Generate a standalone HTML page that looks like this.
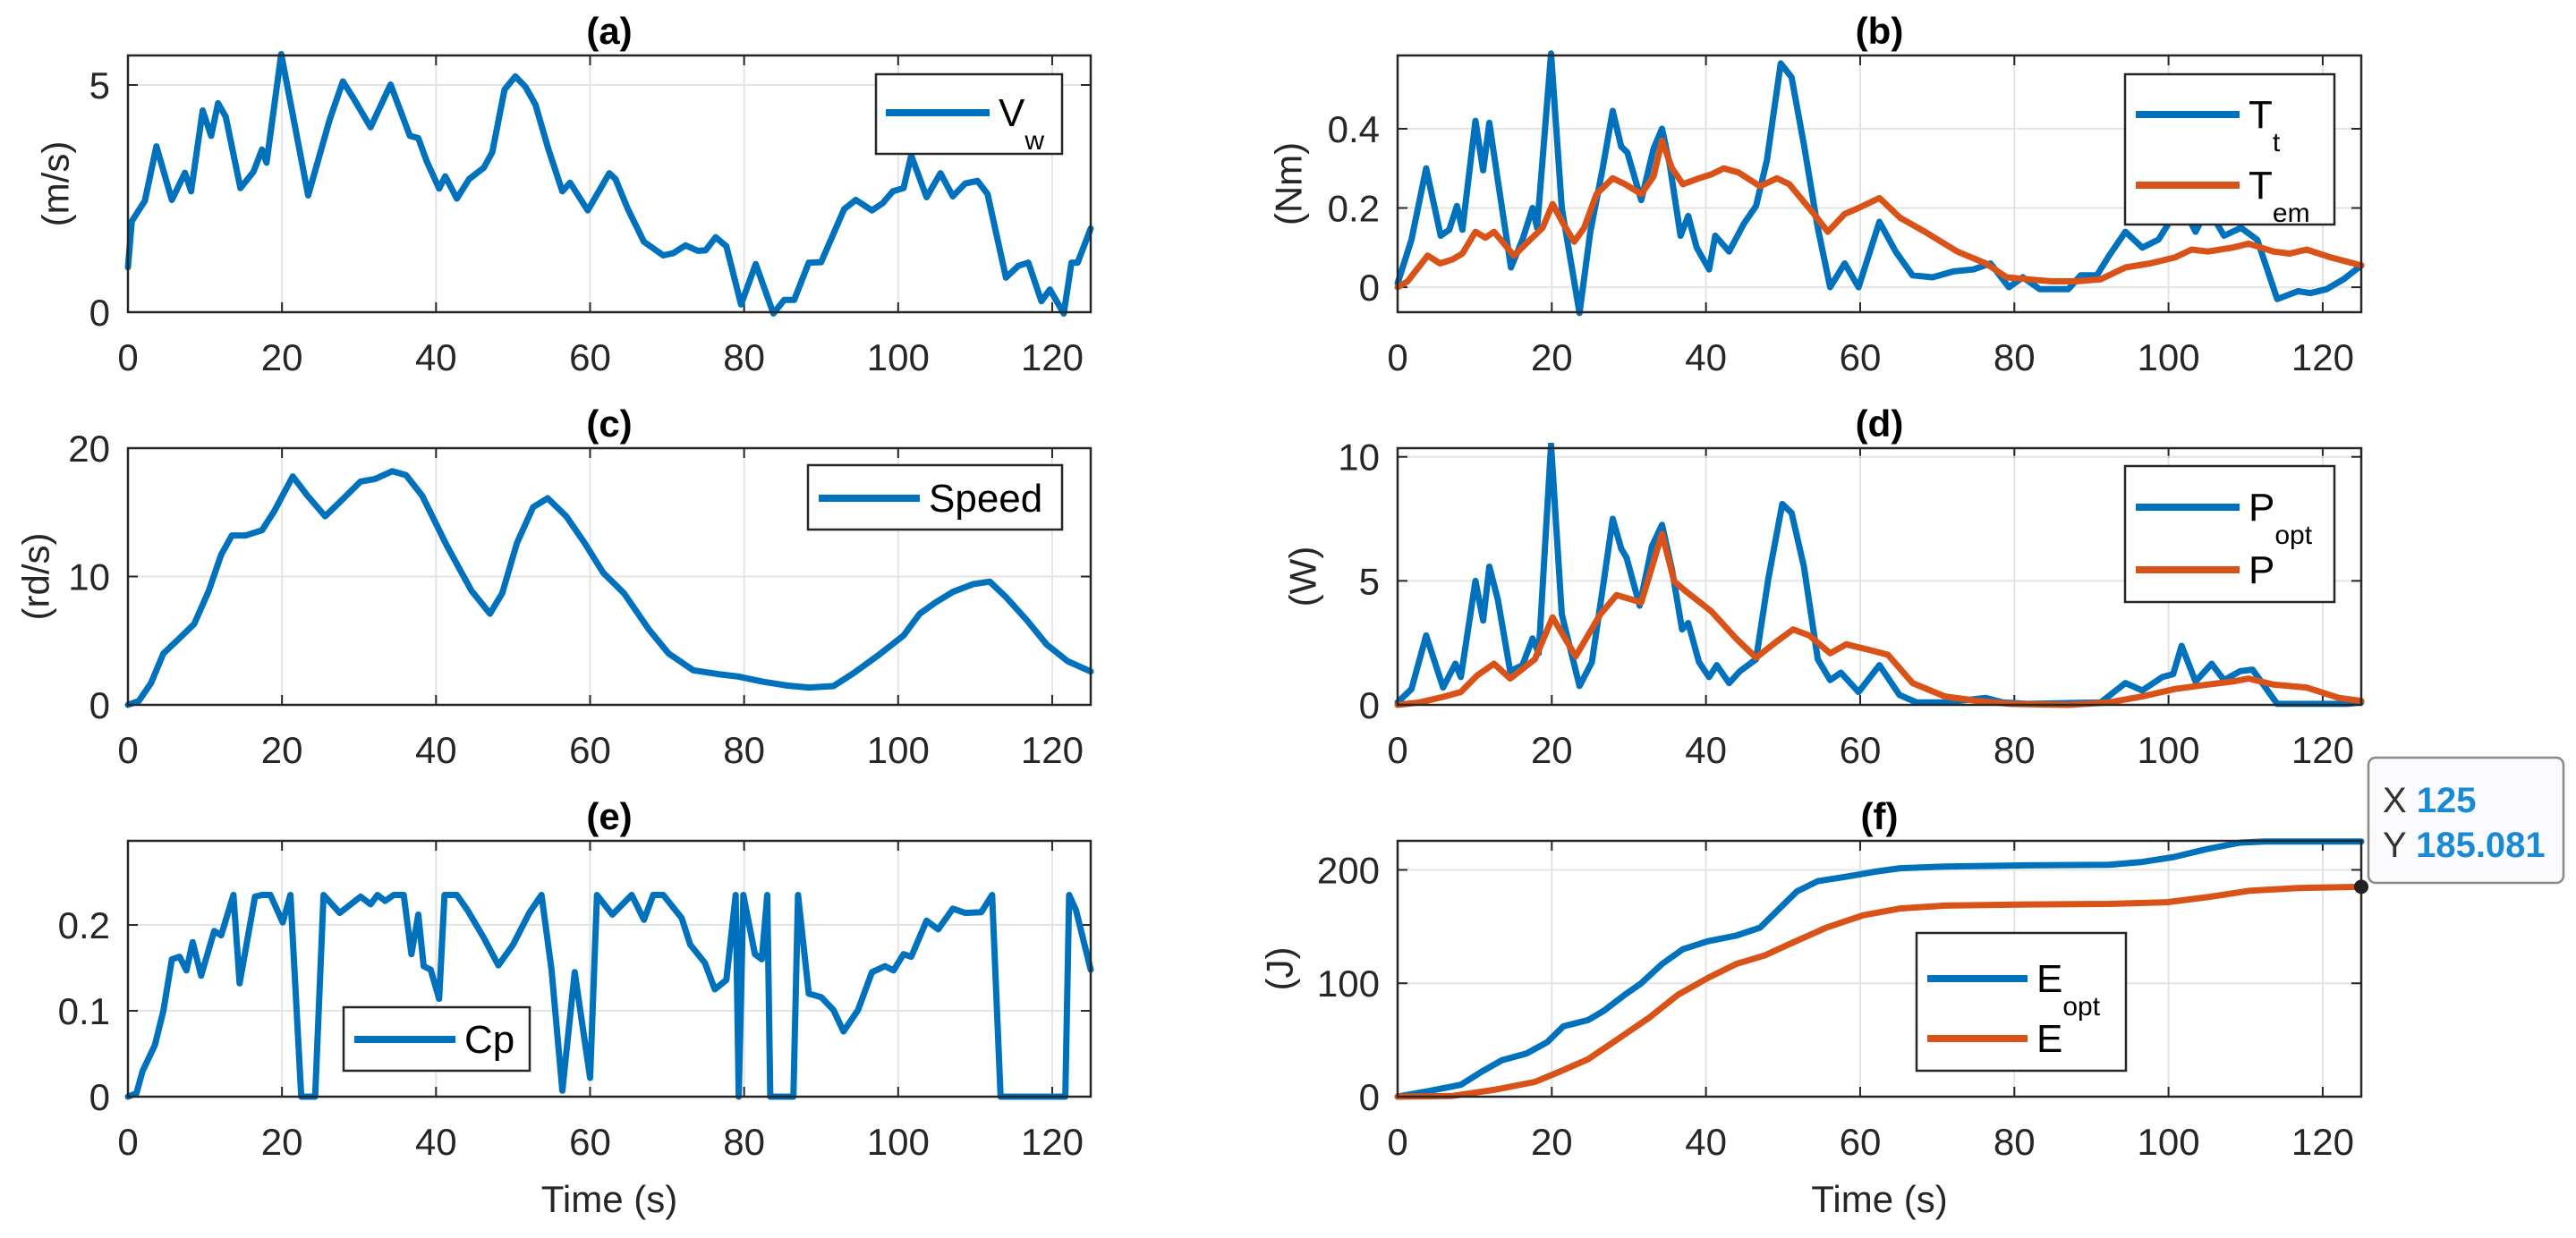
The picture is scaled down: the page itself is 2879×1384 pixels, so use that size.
<!DOCTYPE html>
<html><head><meta charset="utf-8"><style>
html,body{margin:0;padding:0;background:#fff;}
svg{display:block;font-family:"Liberation Sans",Arial,sans-serif;}
</style></head><body>
<svg id="fig" width="2879" height="1384" viewBox="0 0 2879 1384" xmlns="http://www.w3.org/2000/svg"></svg>
<script>
// ---- data ----
const timeTicks = [0,20,40,60,80,100,120];
const tA = [0,0.5,2.2,3.7,5.7,7.4,8.2,9.7,10.8,11.7,12.7,14.6,16.3,17.4,18,19.9,23.4,26.2,27.9,29.1,31.5,34.1,36.6,37.7,38.8,40.4,41.2,42.7,44.3,46.2,47.3,48.9,50.3,51.6,52.9,54.6,56.4,57.4,59.7,62.5,63.3,64.9,67,69.5,70.8,72.4,74,75,76.3,77.7,79.6,81.5,83.8,85.2,86.5,88.4,90,93,94.5,96.6,98,99.3,100.7,101.7,103.7,105.5,107.1,108.7,110.3,111.6,114,115.6,116.9,118.6,119.7,121.5,122.5,123.3,125];
const vw = [0.99,2.0,2.45,3.65,2.47,3.07,2.66,4.44,3.88,4.6,4.3,2.73,3.09,3.58,3.29,5.68,2.57,4.24,5.08,4.76,4.07,5.01,3.88,3.83,3.32,2.72,2.99,2.5,2.93,3.18,3.52,4.9,5.19,4.96,4.57,3.58,2.66,2.85,2.24,3.06,2.93,2.27,1.55,1.25,1.3,1.47,1.35,1.36,1.65,1.45,0.17,1.06,-0.03,0.27,0.27,1.09,1.1,2.27,2.47,2.24,2.4,2.66,2.73,3.45,2.53,3.06,2.55,2.83,2.89,2.6,0.76,1.02,1.09,0.24,0.5,-0.03,1.09,1.09,1.84];
const aTicks = [0,5];

const tTt = [0,1.8,3.7,5.6,6.7,7.7,8.4,10.1,11.1,11.9,13,14.7,16.2,17.5,18.1,19.9,21.3,23.6,25,26.6,27.9,29,29.8,31.6,33.2,34.3,35.3,36.7,37.7,38.8,40.4,41.2,43,44.9,46.5,47.9,49.7,51.1,52.7,54.5,56.1,58,59.8,62.5,64.6,66.8,69.4,72.1,74.7,76.9,79.3,81.1,83.3,87,88.6,90.7,92.3,94.4,96.6,98.7,100.3,101.9,103.5,105.1,107.2,109.4,111.5,114.1,116.8,118.4,120.5,122.7,125];
const torqueTt = [0.01,0.12,0.30,0.13,0.145,0.205,0.145,0.42,0.295,0.415,0.27,0.05,0.12,0.2,0.15,0.59,0.2,-0.065,0.14,0.30,0.445,0.355,0.34,0.22,0.35,0.40,0.31,0.13,0.18,0.10,0.045,0.13,0.09,0.16,0.205,0.32,0.565,0.53,0.36,0.15,0,0.06,0,0.165,0.09,0.03,0.025,0.04,0.045,0.06,0,0.025,-0.005,-0.005,0.03,0.03,0.08,0.14,0.10,0.12,0.17,0.2,0.14,0.2,0.13,0.15,0.12,-0.03,-0.01,-0.015,-0.005,0.02,0.055];
const tTem = [0,1.3,3.9,5.5,7.1,8.4,10.1,11.4,12.5,13.8,15.1,17.2,18.8,20.1,21.5,22.9,24.2,25.8,27.9,29.5,31.6,33.2,34.3,35.6,37,39.1,40.7,42.3,44.2,47,49.2,50.8,54,55.8,58,59.8,62.5,65.2,68.4,72.6,76.3,79,81.7,84.9,88,91.2,94.4,97.6,100.8,103,105.1,108.3,110.4,113.6,115.7,117.9,121.1,125];
const torqueTem = [0,0.015,0.08,0.06,0.07,0.085,0.14,0.125,0.14,0.11,0.08,0.12,0.15,0.21,0.16,0.115,0.15,0.235,0.275,0.26,0.235,0.28,0.37,0.30,0.26,0.275,0.285,0.30,0.29,0.255,0.275,0.26,0.185,0.14,0.185,0.2,0.225,0.175,0.14,0.09,0.06,0.025,0.02,0.015,0.015,0.02,0.05,0.06,0.075,0.095,0.09,0.1,0.11,0.09,0.085,0.095,0.075,0.055];
const bTicks = [0,0.2,0.4];

const tSpeed = [0,1.4,3,4.6,6.7,8.6,10.5,12.1,13.5,15.3,17.4,19,21.4,23.3,25.6,27.5,30.2,32.1,34.3,36.1,38.2,41.4,44.6,47,48.6,50.5,52.6,54.5,56.9,59.3,61.7,64.4,67.6,70.2,73.4,76.6,79.3,82.5,85.7,88.4,91.6,94.3,97.5,100.7,102.8,104.9,107.1,109.7,111.9,114,116.7,119.3,122,125];
const speed = [0,0.3,1.7,4.0,5.2,6.3,8.9,11.7,13.2,13.2,13.6,15.1,17.8,16.3,14.7,15.8,17.4,17.6,18.2,17.9,16.3,12.4,8.9,7.1,8.7,12.6,15.4,16.1,14.7,12.6,10.3,8.7,5.9,4.0,2.7,2.4,2.2,1.8,1.5,1.35,1.46,2.5,3.9,5.4,7.1,8.0,8.8,9.4,9.6,8.4,6.6,4.7,3.4,2.6];
const cTicks = [0,10,20];

const tPopt = [0,1.8,3.7,5.9,7.5,8.2,10.1,11.1,11.9,13,14.6,16.2,17.5,18.3,19.9,21.3,23.6,25.2,26.8,27.9,29,29.7,31.4,33,34.3,35.6,36.9,37.7,39.1,40.4,41.4,43,44.4,46.5,48.1,49.9,51.1,52.7,54.5,56.1,57.5,59.8,62.5,65.1,67.3,71,76.3,78.5,81.7,91.2,94.4,96.6,99.2,100.6,101.7,103.5,105.6,107.2,109.3,110.9,114.1,117.9,123.2,125];
const pOpt = [0.1,0.64,2.8,0.7,1.66,1.12,5.0,3.4,5.57,4.25,1.36,1.6,2.68,2.08,10.5,3.65,0.76,1.72,5.1,7.5,6.3,5.93,4.0,6.4,7.26,5.45,3.04,3.3,1.72,1.12,1.6,0.88,1.36,1.84,5.1,8.1,7.74,5.57,1.84,1.0,1.3,0.52,1.6,0.4,0.1,0.1,0.28,0.1,0.04,0.1,0.88,0.58,1.12,1.24,2.38,0.94,1.66,1.0,1.36,1.42,0.04,0.04,0.04,0.1];
const tP = [0,2.9,6.1,8.2,10.3,12.5,14.6,17.8,20.1,23.1,26.3,28.4,31.6,34.3,35.9,37.5,40.7,43.9,46.5,49.2,51.3,53.4,56.1,58.2,61.4,63.6,66.8,71,75.3,79.5,87,92.3,96.6,100.8,105.1,108.3,110.4,113.6,117.9,122.1,125];
const pAct = [0,0.1,0.34,0.52,1.18,1.66,1.06,1.84,3.53,1.96,3.65,4.43,4.13,6.9,4.97,4.55,3.77,2.68,1.9,2.56,3.04,2.8,2.08,2.44,2.2,2.02,0.88,0.34,0.16,0.04,0,0.1,0.34,0.64,0.82,0.94,1.06,0.82,0.7,0.28,0.16];
const dTicks = [0,5,10];

const tCp = [0,1.1,1.9,3.5,4.6,5.7,6.7,7.6,8.4,9.5,11.2,12.1,13.7,14.5,16.5,17.4,18.5,20.1,21.1,22.5,24.3,25.4,27.5,30.2,31.5,32.4,33.4,34.5,35.8,36.8,37.7,38.4,39.3,40.4,41.1,42.7,44.1,46.2,48.1,50,52.1,53.7,55,56.4,58,60,60.9,62.9,65.4,67,68.2,69.5,71.9,73,74.9,76.2,77.7,78.9,79.3,79.9,81.4,82.3,83,83.4,86.4,87,88.4,90,91.6,92.9,94.8,96.6,98.3,99.4,100.7,101.7,103.7,105.2,107.1,108.7,110.8,112.2,113.3,121.7,122.2,123.1,125];
const cp = [0,0.004,0.03,0.06,0.1,0.16,0.163,0.147,0.18,0.141,0.193,0.188,0.235,0.132,0.233,0.235,0.235,0.203,0.235,0,0,0.235,0.214,0.233,0.224,0.235,0.228,0.235,0.235,0.166,0.212,0.152,0.148,0.114,0.235,0.235,0.217,0.185,0.153,0.177,0.214,0.235,0.148,0.007,0.145,0.022,0.235,0.212,0.235,0.206,0.235,0.235,0.208,0.177,0.156,0.125,0.136,0.235,0,0.235,0.166,0.16,0.235,0,0,0.235,0.12,0.116,0.101,0.076,0.101,0.145,0.152,0.147,0.166,0.163,0.205,0.195,0.219,0.214,0.215,0.235,0,0,0.235,0.217,0.148];
const eTicks = [0,0.1,0.2];

const tEopt = [0,3.9,8.2,10.9,13.5,16.7,19.4,21.5,24.7,26.8,29.5,31.6,34.3,37,40.2,43.9,47,49.7,51.8,54.5,58.2,62,65.2,71,81.7,92.3,96.6,100.8,105.1,109.3,112.5,125];
const eOpt = [0,4.8,10.5,22,32,38,48,62,67.5,76,90,100,117,130,137,142,149,167,181,190,194,198.5,201.5,203,204,204.5,207,211.5,218.5,224,225,225];
const tE = [0,7.1,12.5,17.8,21,24.7,28.4,32.7,36.4,40.2,43.9,47.6,51.3,55.6,60.4,65.2,71,81.7,92.3,99.8,105.1,110.4,116.8,125];
const eAct = [0,0.6,6,13,22,33,50,70,90,104.5,117,124.5,136,149,160,166,168.5,169.5,170,171.5,176,181.5,184,185.081];
const fTicks = [0,100,200];
const cursorX = 125, cursorY = 185.081;

// ---- drawing ----
const NS = 'http://www.w3.org/2000/svg';
const svg = document.getElementById('fig');
const BLUE = '#0072BD', ORANGE = '#D95319', DARK = '#262626';
function mk(tag, attrs, parent) {
  const e = document.createElementNS(NS, tag);
  for (const k in attrs) e.setAttribute(k, attrs[k]);
  (parent || svg).appendChild(e);
  return e;
}
const cols = [{x0:143,x1:1219},{x0:1562,x1:2639}];
const rows = [{y0:62,y1:349},{y0:501,y1:788},{y0:940,y1:1226}];

function panel(name, col, row, ylim, yticks, title, ylabel, ylabelX, series, legend, xlabel) {
  const g = mk('g', {});
  
  
  const C = cols[col], R = rows[row];
  const sx = t => C.x0 + (t - 0) / 125 * (C.x1 - C.x0);
  const sy = v => R.y1 - (v - ylim[0]) / (ylim[1] - ylim[0]) * (R.y1 - R.y0);
  mk('rect', {x:C.x0, y:R.y0, width:C.x1-C.x0, height:R.y1-R.y0, fill:'#fff'}, g);
  timeTicks.forEach(t => {
    const l = mk('line', {x1:sx(t), x2:sx(t), y1:R.y0, y2:R.y1, stroke:'#e4e4e4', 'stroke-width':2}, g);
    
    
    mk('line', {x1:sx(t), x2:sx(t), y1:R.y1, y2:R.y1-11, stroke:DARK, 'stroke-width':2}, g);
    mk('line', {x1:sx(t), x2:sx(t), y1:R.y0, y2:R.y0+11, stroke:DARK, 'stroke-width':2}, g);
    const tx = mk('text', {x:sx(t), y:R.y1+65, 'font-size':42, 'text-anchor':'middle', fill:DARK}, g);
    tx.textContent = t;
    
    
  });
  yticks.forEach(v => {
    const l = mk('line', {x1:C.x0, x2:C.x1, y1:sy(v), y2:sy(v), stroke:'#e4e4e4', 'stroke-width':2}, g);
    
    
    mk('line', {x1:C.x0, x2:C.x0+11, y1:sy(v), y2:sy(v), stroke:DARK, 'stroke-width':2}, g);
    mk('line', {x1:C.x1, x2:C.x1-11, y1:sy(v), y2:sy(v), stroke:DARK, 'stroke-width':2}, g);
    const tx = mk('text', {x:C.x0-20, y:sy(v)+15, 'font-size':42, 'text-anchor':'end', fill:DARK}, g);
    tx.textContent = v;
    
    
  });
  const clipId = 'clip-' + name;
  const cp = mk('clipPath', {id:clipId}, g);
  mk('rect', {x:C.x0-4, y:R.y0-6, width:C.x1-C.x0+8, height:R.y1-R.y0+12}, cp);
  series.forEach(s => {
    const d = s.t.map((t, i) => (i ? 'L' : 'M') + sx(t).toFixed(1) + ' ' + sy(s.v[i]).toFixed(1)).join(' ');
    const p = mk('path', {d:d, fill:'none', stroke:s.color, 'stroke-width':7, 'stroke-linejoin':'round', 'stroke-linecap':'round', 'clip-path':'url(#'+clipId+')'}, g);
    
    
  });
  const box = mk('rect', {x:C.x0, y:R.y0, width:C.x1-C.x0, height:R.y1-R.y0, fill:'none', stroke:DARK, 'stroke-width':2.5}, g);
  
  
  const tt = mk('text', {x:(C.x0+C.x1)/2, y:R.y0-13, 'font-size':42, 'font-weight':'bold', 'text-anchor':'middle', fill:'#000'}, g);
  tt.textContent = title;
  
  
  if (ylabel) {
    const cy = (R.y0+R.y1)/2;
    const yl = mk('text', {x:ylabelX, y:cy, 'font-size':42, 'text-anchor':'middle', 'dominant-baseline':'central', fill:DARK, transform:'rotate(-90 '+ylabelX+' '+cy+')'}, g);
    yl.textContent = ylabel;
    
    
  }
  if (xlabel) {
    const xl = mk('text', {x:(C.x0+C.x1)/2, y:1355, 'font-size':42, 'text-anchor':'middle', fill:DARK}, g);
    xl.textContent = xlabel;
    
    
  }
  const lg = mk('g', {}, g);
  
  
  mk('rect', {x:legend.x, y:legend.y, width:legend.w, height:legend.h, fill:'#fff', stroke:DARK, 'stroke-width':2.5}, lg);
  legend.items.forEach(it => {
    const en = mk('g', {}, lg);
    
    
    mk('line', {x1:legend.lx, x2:legend.lx+legend.ll, y1:it.y, y2:it.y, stroke:it.color, 'stroke-width':8}, en);
    const tx = mk('text', {x:legend.lx+legend.ll+10, y:it.y+15, 'font-size':44, fill:'#000'}, en);
    tx.appendChild(document.createTextNode(it.main));
    if (it.sub) {
      const ts = mk('tspan', {dy:26, 'font-size':30}, tx);
      ts.textContent = it.sub;
    }
  });
}

panel('a', 0, 0, [0,5.65], aTicks, '(a)', '(m/s)', 62,
  [{t:tA, v:vw, color:BLUE, name:'vw-line'}],
  {x:979, y:83, w:208, h:89, lx:990, ll:116, items:[{y:126, color:BLUE, main:'V', sub:'w'}]});
panel('b', 1, 0, [-0.063,0.585], bTicks, '(b)', '(Nm)', 1440,
  [{t:tTt, v:torqueTt, color:BLUE, name:'tt-line'},{t:tTem, v:torqueTem, color:ORANGE, name:'tem-line'}],
  {x:2375, y:83, w:234, h:168, lx:2387, ll:116, items:[{y:128, color:BLUE, main:'T', sub:'t'},{y:207, color:ORANGE, main:'T', sub:'em'}]});
panel('c', 0, 1, [0,20], cTicks, '(c)', '(rd/s)', 40,
  [{t:tSpeed, v:speed, color:BLUE, name:'speed-line'}],
  {x:903, y:520, w:284, h:72, lx:915, ll:113, items:[{y:557, color:BLUE, main:'Speed'}]});
panel('d', 1, 1, [0,10.35], dTicks, '(d)', '(W)', 1456,
  [{t:tPopt, v:pOpt, color:BLUE, name:'popt-line'},{t:tP, v:pAct, color:ORANGE, name:'p-line'}],
  {x:2375, y:521, w:234, h:152, lx:2387, ll:116, items:[{y:567, color:BLUE, main:'P', sub:'opt'},{y:637, color:ORANGE, main:'P'}]});
panel('e', 0, 2, [0,0.298], eTicks, '(e)', '', 0,
  [{t:tCp, v:cp, color:BLUE, name:'cp-line'}],
  {x:384, y:1126, w:208, h:71, lx:396, ll:113, items:[{y:1162, color:BLUE, main:'Cp'}]}, 'Time (s)');
panel('f', 1, 2, [0,225.6], fTicks, '(f)', '(J)', 1430,
  [{t:tEopt, v:eOpt, color:BLUE, name:'eopt-line'},{t:tE, v:eAct, color:ORANGE, name:'e-line'}],
  {x:2142, y:1043, w:234, h:154, lx:2154, ll:112, items:[{y:1094, color:BLUE, main:'E', sub:'opt'},{y:1161, color:ORANGE, main:'E'}]}, 'Time (s)');

(function(){
  const C = cols[1], R = rows[2];
  const px = C.x0 + cursorX/125*(C.x1-C.x0);
  const py = R.y1 - cursorY/225.6*(R.y1-R.y0);
  const g = mk('g', {});
  
  
  mk('rect', {x:2647, y:847, width:218, height:140, rx:8, fill:'#fbfbfd', stroke:'#8a8a8a', 'stroke-width':2.5}, g);
  const t1 = mk('text', {x:2663, y:908, 'font-size':40, fill:'#333'}, g);
  t1.appendChild(document.createTextNode('X '));
  const v1 = mk('tspan', {fill:'#1a8ad4', 'font-weight':'bold'}, t1); v1.textContent = String(cursorX);
  const t2 = mk('text', {x:2663, y:958, 'font-size':40, fill:'#333'}, g);
  t2.appendChild(document.createTextNode('Y '));
  const v2 = mk('tspan', {fill:'#1a8ad4', 'font-weight':'bold'}, t2); v2.textContent = String(cursorY);
  const dot = mk('circle', {cx:px, cy:py, r:8, fill:'#222'}, g);
  
  
})();
</script>
</body></html>
